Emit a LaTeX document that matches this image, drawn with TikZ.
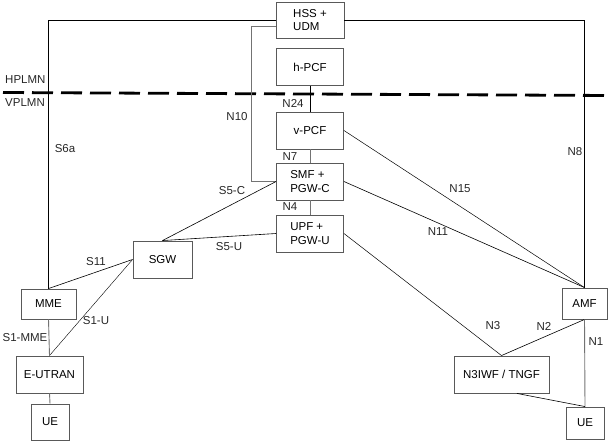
\documentclass[tikz,border=0pt]{standalone}
\usepackage{fontspec}
\setmainfont{Liberation Sans}
\begin{document}
\begin{tikzpicture}[x=1pt,y=-1pt,
  box/.style={draw=black!65,line width=0.9pt,inner sep=0pt,font=\fontsize{11.5}{13.5}\selectfont},
  conn/.style={draw=black,line width=0.6pt},
  gconn/.style={draw=black!55,line width=0.9pt},
  lbl/.style={font=\fontsize{11.5}{13.5}\selectfont,inner sep=0pt,text=black!85}]
\useasboundingbox (0,0) rectangle (610,444);
% nodes
\node[box,minimum width=68,minimum height=36,align=left] (hss) at (310,20) {HSS +\\UDM};
\node[box,minimum width=67,minimum height=37] (hpcf) at (310,67) {h-PCF\hspace{6pt}};
\node[box,minimum width=67,minimum height=37] (vpcf) at (310,130.5) {v-PCF\hspace{6pt}};
\node[box,minimum width=67,minimum height=37,align=left] (smf) at (310,181.5) {SMF +\\PGW-C};
\node[box,minimum width=67,minimum height=37,align=left] (upf) at (310,233.5) {UPF +\\PGW-U};
\node[box,minimum width=59,minimum height=37] (sgw) at (162.5,259.5) {SGW};
\node[box,minimum width=55,minimum height=30] (mme) at (48.5,304) {MME};
\node[box,minimum width=67,minimum height=37] (eutran) at (49.5,374.5) {E-UTRAN};
\node[box,minimum width=38,minimum height=36] (ueA) at (50,422) {UE};
\node[box,minimum width=45,minimum height=31] (amf) at (584.5,303.5) {AMF};
\node[box,minimum width=95,minimum height=37] (n3iwf) at (501.5,374.5) {N3IWF / TNGF};
\node[box,minimum width=38,minimum height=32] (ueB) at (585,423) {UE};
% PLMN border
\coordinate (dl) at (3,92.5);
\coordinate (dr) at (610,95.5);
\draw[line width=2.8pt,dash pattern=on 21pt off 8pt] (dl) -- (dr);
\node[lbl,anchor=west] (hplmn) at (5,80) {HPLMN};
\node[lbl,anchor=west] (vplmn) at (5,103) {VPLMN};
% connectors
\draw[conn] (hss.west) -| (mme.north);
\draw[conn] (hss.east) -| (amf.north);
\draw[gconn] ([yshift=-6pt]hss.west) -- ++(-24,0) |- (smf.west);
\draw[conn] (hpcf.south) -- (vpcf.north);
\draw[gconn] (vpcf.south) -- (smf.north);
\draw[gconn] (smf.south) -- (upf.north);
\draw[conn] (smf.west) -- (sgw.north);
\draw[conn] (upf.west) -- (sgw.north);
\draw[conn] (mme.north) -- (sgw.west);
\draw[conn,line width=0.4pt] (eutran.north) -- (sgw.west);
\draw[gconn] (mme.south) -- (eutran.north);
\draw[gconn] (eutran.south) -- (ueA.north);
\draw[conn,line width=0.5pt] (vpcf.east) -- (amf.north);
\draw[conn] (smf.east) -- (amf.north);
\draw[conn,line width=0.5pt] (upf.east) -- (n3iwf.north);
\draw[conn] (n3iwf.north) -- (amf.south);
\draw[gconn] (amf.south) -- (ueB.north);
\draw[conn] ([xshift=15.5pt]n3iwf.south) -- (ueB.north);
% labels
\node[lbl] (lS6a) at (65,149) {S6a};
\node[lbl] (lN10) at (237,117) {N10};
\node[lbl] (lN24) at (293,103) {N24};
\node[lbl] (lN7) at (290,157) {N7};
\node[lbl] (lN4) at (290,207) {N4};
\node[lbl] (lS5C) at (232,191) {S5-C};
\node[lbl] (lS5U) at (229,247) {S5-U};
\node[lbl] (lS11) at (96,262) {S11};
\node[lbl] (lS1U) at (96,321) {S1-U};
\node[lbl] (lS1MME) at (25,338) {S1-MME};
\node[lbl] (lN8) at (575,152) {N8};
\node[lbl] (lN15) at (460,189) {N15};
\node[lbl] (lN11) at (438,232) {N11};
\node[lbl] (lN3) at (493,326) {N3};
\node[lbl] (lN2) at (544,326) {N2};
\node[lbl] (lN1) at (596,342) {N1};
\end{tikzpicture}
\end{document}
